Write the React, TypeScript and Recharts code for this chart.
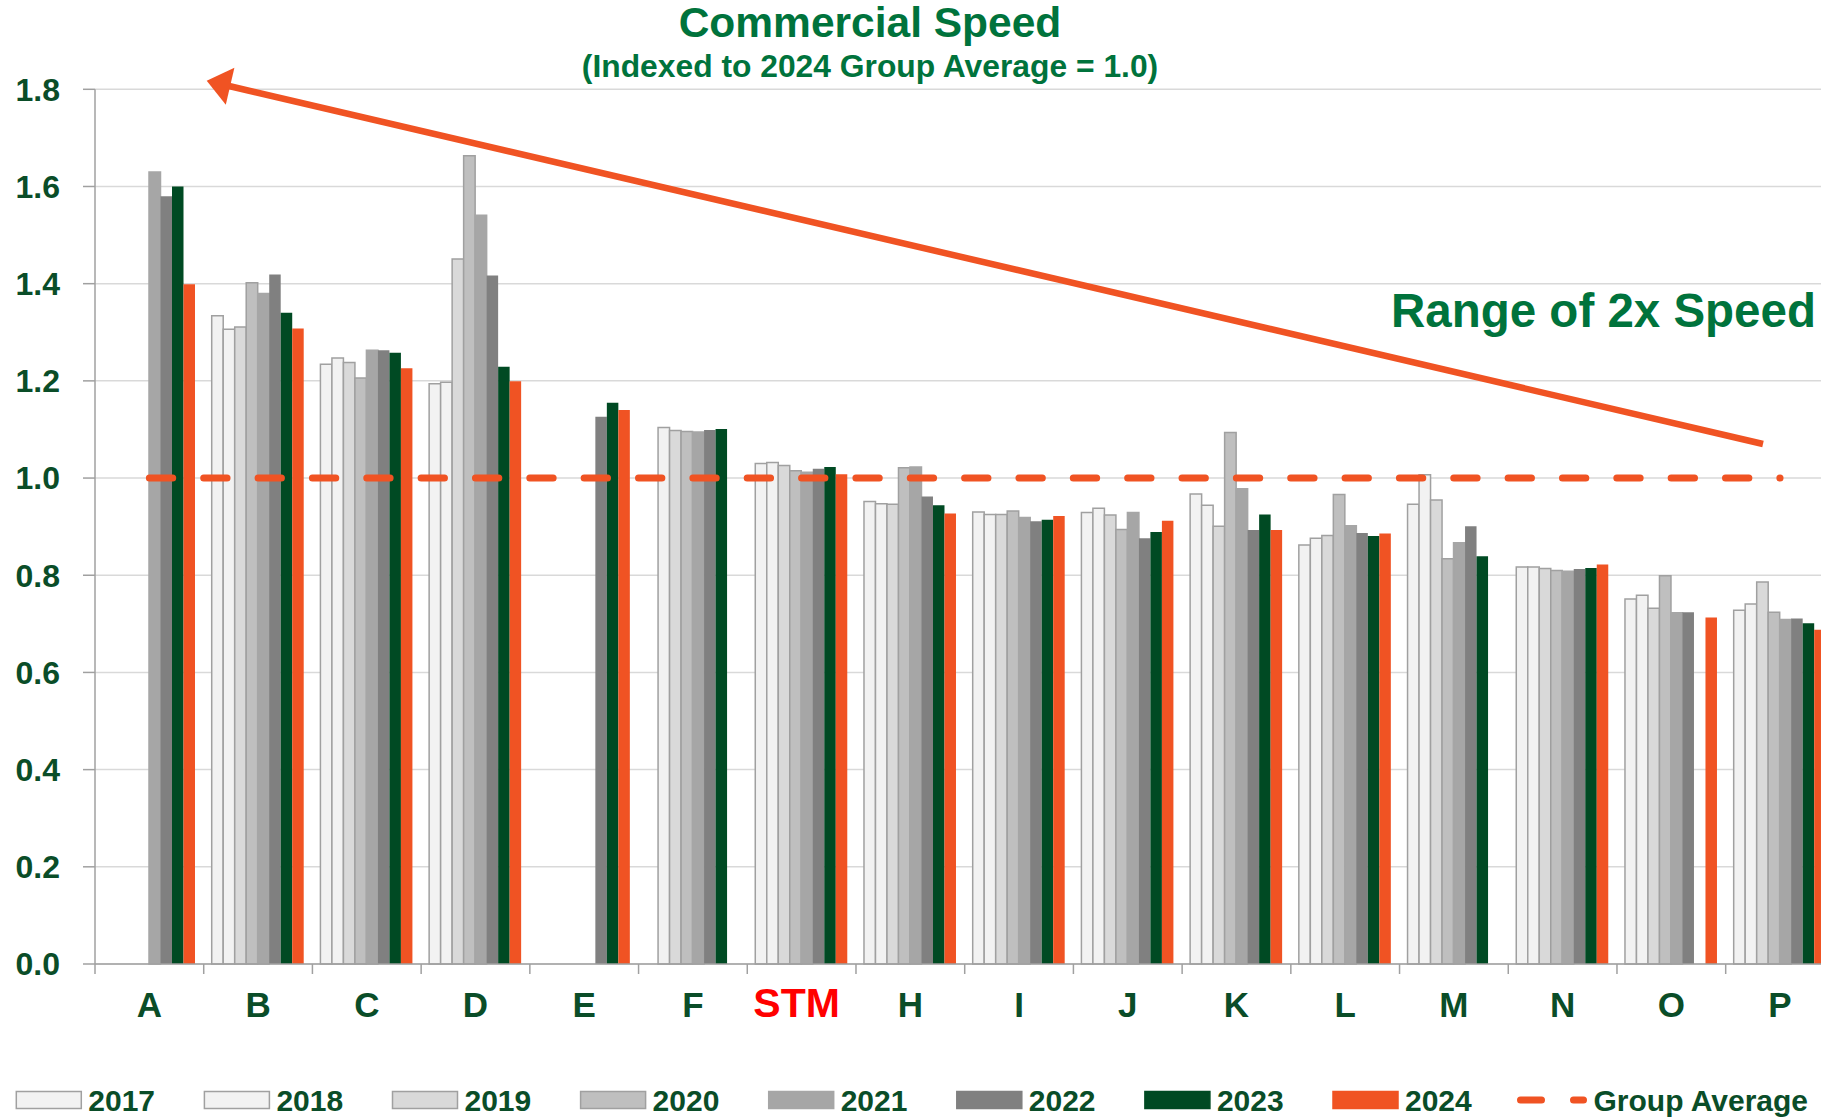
import { Bar, CartesianGrid, ComposedChart, Line, XAxis, YAxis } from 'recharts';

const FONT = '"Liberation Sans", Arial, sans-serif';
const LABEL = '#0A4D28';
const TITLE = '#00733C';
const ORANGE = '#F05323';
const AXIS = '#A0A0A0';
const BAND = 108.71;

const categories = ['A', 'B', 'C', 'D', 'E', 'F', 'STM', 'H', 'I', 'J', 'K', 'L', 'M', 'N', 'O', 'P'];
const years = ['2017', '2018', '2019', '2020', '2021', '2022', '2023', '2024'];

const v2017 = [null, 1.334, 1.234, 1.194, null, null, 1.03, 0.952, 0.93, 0.929, 0.967, 0.862, 0.946, 0.817, 0.751, 0.728];
const v2018 = [null, 1.306, 1.247, 1.197, null, 1.104, 1.032, 0.947, 0.925, 0.938, 0.944, 0.876, 1.007, 0.817, 0.759, 0.741];
const v2019 = [null, 1.311, 1.238, 1.451, null, 1.098, 1.026, 0.946, 0.925, 0.924, 0.901, 0.882, 0.955, 0.814, 0.732, 0.786];
const v2020 = [null, 1.402, 1.206, 1.663, null, 1.096, 1.015, 1.021, 0.932, 0.894, 1.094, 0.966, 0.834, 0.81, 0.799, 0.724];
const v2021 = [1.63, 1.38, 1.263, 1.541, null, 1.095, 1.012, 1.023, 0.919, 0.929, 0.978, 0.902, 0.867, 0.808, 0.723, 0.709];
const v2022 = [1.58, 1.419, 1.263, 1.417, 1.126, 1.099, 1.019, 0.962, 0.911, 0.876, 0.893, 0.887, 0.901, 0.813, 0.724, 0.711];
const v2023 = [1.6, 1.34, 1.258, 1.229, 1.155, 1.101, 1.023, 0.944, 0.914, 0.889, 0.925, 0.881, 0.839, 0.815, null, 0.701];
const v2024 = [1.399, 1.308, 1.226, 1.199, 1.14, null, 1.008, 0.927, 0.922, 0.912, 0.893, 0.886, null, 0.822, 0.713, 0.688];
const groupAverage = [1.0, 1.0, 1.0, 1.0, 1.0, 1.0, 1.0, 1.0, 1.0, 1.0, 1.0, 1.0, 1.0, 1.0, 1.0, 1.0];

const yTicks = [0, 0.2, 0.4, 0.6, 0.8, 1.0, 1.2, 1.4, 1.6, 1.8];

const fills = ['#F2F2F2', '#F2F2F2', '#D9D9D9', '#BFBFBF', '#A6A6A6', '#808080', '#004A23', ORANGE];
const strokes = [AXIS, AXIS, AXIS, AXIS, '#A6A6A6', 'none', 'none', 'none'];

const seriesValues = [v2017, v2018, v2019, v2020, v2021, v2022, v2023, v2024];

const rows = categories.map((name, i) => {
  const row: Record<string, string | number | null> = { name, avg: groupAverage[i] };
  years.forEach((yr, k) => {
    row['y' + yr] = seriesValues[k][i];
  });
  return row;
});

function CategoryTick(props: any) {
  const { x, y, payload } = props;
  const half = payload.offset || BAND / 2;
  const stm = payload.value === 'STM';
  return (
    <g>
      <line x1={x - half} x2={x - half} y1={y} y2={y + 10} stroke={AXIS} strokeWidth={1.5} />
      <text
        x={stm ? x - 5 : x}
        y={y + 53}
        textAnchor="middle"
        fontSize={stm ? 41 : 35}
        fontWeight="bold"
        fontFamily={FONT}
        fill={stm ? '#FF0000' : LABEL}
      >
        {payload.value}
      </text>
    </g>
  );
}

export default function App() {
  return (
    <div
      style={{
        position: 'absolute',
        left: 0,
        top: 0,
        width: 1821,
        height: 1118,
        overflow: 'hidden',
        background: '#fff',
        fontFamily: FONT,
      }}
    >
      <ComposedChart
        width={1840}
        height={1118}
        data={rows}
        margin={{ top: 89.3, right: 5.6, left: 0, bottom: 94 }}
        barGap={0}
        barSize={11.5}
      >
        <CartesianGrid vertical={false} stroke="#D9D9D9" strokeWidth={1.5} />
        <XAxis
          dataKey="name"
          interval={0}
          height={60}
          tickSize={0}
          tickMargin={0}
          tickLine={false}
          axisLine={{ stroke: AXIS, strokeWidth: 1.5 }}
          tick={<CategoryTick />}
        />
        <YAxis
          type="number"
          domain={[0, 1.8]}
          ticks={yTicks}
          interval={0}
          width={95}
          tickSize={12}
          tickMargin={23}
          tickFormatter={(v: number) => v.toFixed(1)}
          axisLine={{ stroke: AXIS, strokeWidth: 1.5 }}
          tickLine={{ stroke: AXIS, strokeWidth: 1.5 }}
          tick={{ fontSize: 32, fontWeight: 'bold', fill: LABEL, fontFamily: FONT }}
        />
        {years.map((yr, k) => (
          <Bar
            key={yr}
            dataKey={'y' + yr}
            fill={fills[k]}
            stroke={strokes[k]}
            strokeWidth={1.5}
            isAnimationActive={false}
          />
        ))}
        <Line
          dataKey="avg"
          type="linear"
          stroke={ORANGE}
          strokeWidth={7}
          strokeDasharray="23.35 31"
          strokeLinecap="round"
          dot={false}
          activeDot={false}
          isAnimationActive={false}
        />
      </ComposedChart>

      <svg
        width={1821}
        height={1118}
        style={{ position: 'absolute', left: 0, top: 0, pointerEvents: 'none' }}
        fontFamily={FONT}
      >
        <text x={870} y={37} textAnchor="middle" fontSize={42.5} fontWeight="bold" fill={TITLE}>
          Commercial Speed
        </text>
        <text x={870} y={77} textAnchor="middle" fontSize={31.8} fontWeight="bold" fill={TITLE}>
          (Indexed to 2024 Group Average = 1.0)
        </text>
        <text x={1391} y={327} fontSize={47.5} fontWeight="bold" fill={TITLE}>
          Range of 2x Speed
        </text>
        <line x1={1763} y1={444} x2={229} y2={86} stroke={ORANGE} strokeWidth={6.5} />
        <polygon points="206.7,80.7 234.4,67.7 225.8,104.7" fill={ORANGE} />

        {years.map((yr, k) => {
          const left = 16.3 + 188.1 * k;
          return (
            <g key={yr}>
              <rect
                x={left}
                y={1091.5}
                width={65}
                height={17}
                fill={fills[k]}
                stroke={strokes[k] === 'none' ? fills[k] : strokes[k]}
                strokeWidth={1.5}
              />
              <text x={left + 72} y={1110.5} fontSize={30} fontWeight="bold" fill={LABEL}>
                {yr}
              </text>
            </g>
          );
        })}
        <line
          x1={1520.5}
          x2={1583.5}
          y1={1100}
          y2={1100}
          stroke={ORANGE}
          strokeWidth={7}
          strokeDasharray="21 32"
          strokeLinecap="round"
        />
        <text x={1593.5} y={1110.5} fontSize={30} fontWeight="bold" fill={LABEL}>
          Group Average
        </text>
      </svg>
    </div>
  );
}
